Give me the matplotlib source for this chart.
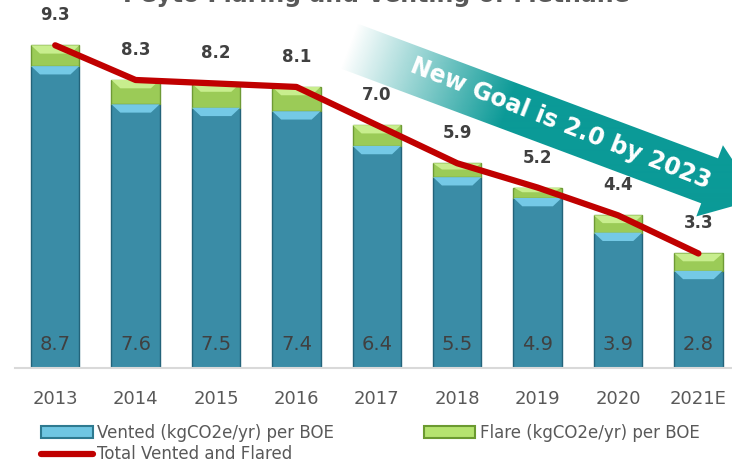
import numpy as np
import matplotlib.pyplot as plt
from matplotlib.patches import Polygon, Patch
from matplotlib.lines import Line2D
from matplotlib.colors import to_rgb

years = ['2013', '2014', '2015', '2016', '2017', '2018', '2019', '2020', '2021E']
vented = [8.7, 7.6, 7.5, 7.4, 6.4, 5.5, 4.9, 3.9, 2.8]
flare = [0.6, 0.7, 0.7, 0.7, 0.6, 0.4, 0.3, 0.5, 0.5]
total = [9.3, 8.3, 8.2, 8.1, 7.0, 5.9, 5.2, 4.4, 3.3]

W, H = 732, 465
fig = plt.figure(figsize=(W / 100, H / 100), dpi=100)
ax = fig.add_axes([15 / W, 97 / H, 9 * 80.4 / W, 10.5 * 34.7 / H])

x = np.arange(len(years))
bw = 0.6

# --- barras apiladas ---
ax.bar(x, vented, bw, color='#3A8CA6', edgecolor='#23637A', lw=1, zorder=2)
ax.bar(x, flare, bw, bottom=vented, color='#9BCB57', edgecolor='#6E9A35', lw=1, zorder=2)


def bisel(xc, y0, y1, col, d=0.11):
    h = min(0.24, (y1 - y0) * 0.45)
    poly = [(xc - bw / 2, y1), (xc + bw / 2, y1),
            (xc + bw / 2 - d, y1 - h), (xc - bw / 2 + d, y1 - h)]
    ax.add_patch(Polygon(poly, closed=True, fc=col, ec='none', zorder=3))


for xi, v, f in zip(x, vented, flare):
    bisel(xi, 0, v, '#74C9E6')
    bisel(xi, v, v + f, '#C8EE8E')

# --- linea total ---
ax.plot(x, total, color='#C00000', lw=4.5, solid_capstyle='round',
        solid_joinstyle='round', zorder=4)

for xi, v, t in zip(x, vented, total):
    ax.annotate(f'{v:.1f}', (xi, 0), xytext=(0, 16.6), textcoords='offset points',
                ha='center', va='center', fontsize=14, color='#404040', zorder=5)
    ax.annotate(f'{t:.1f}', (xi, t), xytext=(0, 21.6), textcoords='offset points',
                ha='center', va='center', fontsize=12, fontweight='bold',
                color='#404040', zorder=5)

ax.set_xlim(-0.5, 8.5)
ax.set_ylim(0, 10.5)
for s in ['left', 'right', 'top']:
    ax.spines[s].set_visible(False)
ax.spines['bottom'].set_color('#D9D9D9')
ax.spines['bottom'].set_linewidth(1.5)
ax.set_yticks([])
ax.set_xticks(x, years)
ax.tick_params(axis='x', length=0, pad=15.5, labelsize=13, labelcolor='#595959')

# --- flecha de la meta ---
ov = fig.add_axes([0, 0, 1, 1], zorder=10)
ov.axis('off')
ang = np.deg2rad(20.5)
u = np.array([np.cos(ang), np.sin(ang)])
n = np.array([np.sin(ang), -np.cos(ang)])
cola = np.array([349.0, 46.0])
largo, punta, hw, hh = 385, 52, 24, 38
pts = [cola + hw * n, cola + largo * u + hw * n, cola + largo * u + hh * n,
       cola + (largo + punta) * u, cola + largo * u - hh * n,
       cola + largo * u - hw * n, cola - hw * n]
flecha = Polygon(pts, closed=True, fc='none', ec='none', transform=ov.transData)
ov.add_patch(flecha)

yy, xx = np.mgrid[0:H, 0:W] + 0.5
t = (xx - cola[0]) * u[0] + (yy - cola[1]) * u[1]
rgba = np.zeros((H, W, 4))
rgba[..., :3] = to_rgb('#0B9A97')
rgba[..., 3] = np.clip(t / 170, 0, 1)
im = ov.imshow(rgba, extent=[0, W, H, 0], origin='upper', interpolation='bilinear',
               aspect='auto')
im.set_clip_path(flecha)
ov.set_xlim(0, W)
ov.set_ylim(H, 0)
ov.text(561, 124, 'New Goal is 2.0 by 2023', rotation=-21.5, rotation_mode='anchor',
        ha='center', va='center', fontsize=17, fontweight='bold', color='white')

fig.text(376 / W, 1 - 2 / H, 'Peyto Flaring and Venting of Methane', ha='center',
         va='baseline', fontsize=17, fontweight='bold', color='#595959')

handles = [Patch(fc='#6FC6E2', ec='#2E7A90', lw=1.5),
           Line2D([], [], color='#C00000', lw=4.5, solid_capstyle='round'),
           Patch(fc='#B5E36F', ec='#6B9A30', lw=1.5)]
labels = ['Vented (kgCO2e/yr) per BOE', 'Total Vented and Flared',
          'Flare (kgCO2e/yr) per BOE']
fig.legend(handles, labels, ncol=2, loc='upper left', bbox_to_anchor=(41 / W, 1 - 424 / H),
           frameon=False, fontsize=12, borderpad=0, borderaxespad=0, handlelength=3.1,
           handletextpad=0.25, columnspacing=5.4, labelspacing=0.2, labelcolor='#595959')

fig.savefig('out.png', dpi=100)
